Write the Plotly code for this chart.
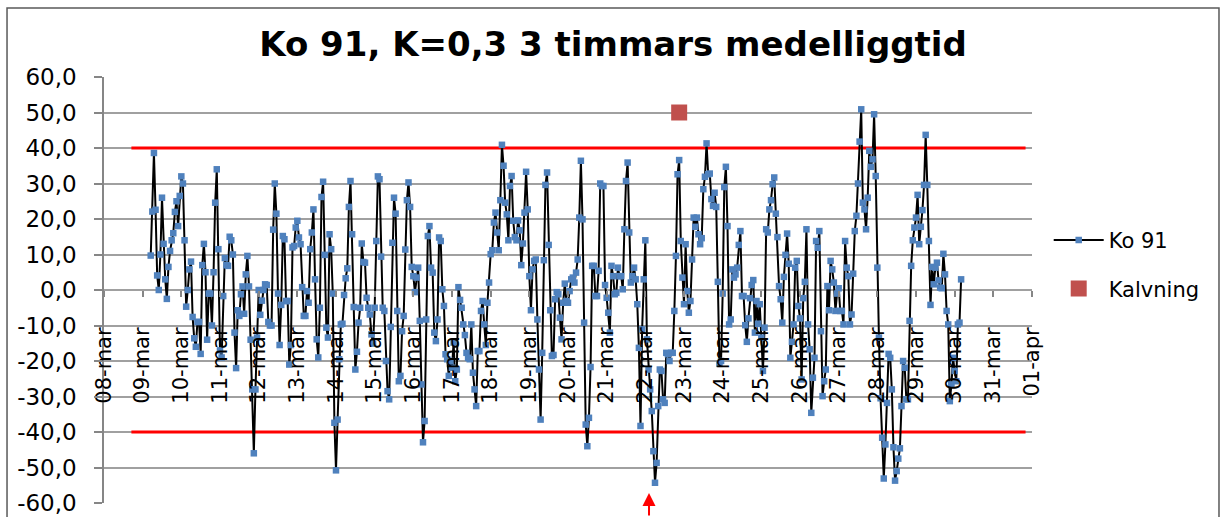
import plotly.graph_objects as go
import pandas as pd

title_text = "Ko 91, K=0,3 3 timmars medelliggtid"

# hourly readings of the 3-hour mean, starting 09-mar 05:00
start_time = "2011-03-09 05:00"

ko91_09_12mar = [9.7, 22.1, 38.6, 22.6, 4.1, 0, 10, 26, 13, 3,
                 -2.5, 6.5, 11, 14, 16, 22, 25, 18, 26.5, 32,
                 30, 14, -4.7, 0, 5.8, 8, -7.6, -13.6, -16, -9,
                 -9, -18, 7, 13, 5, -14, -1, -1, -10, 5,
                 24.6, 34, 11.5, -17, -19, -1.7, 9, 7, 6.8, 15,
                 14, 10, -12, -22, -5.7, -7.3, -1.2, 1, -6.7, 4.4,
                 9.6, 1, -14, -28, -46, -28, -13.4, 0, -7, -3,
                 0, 1.6, 1.4, -9, -10, -10, 17, 30, 21.5, -1]

ko91_12_16mar = [-15.5, -4.2, 15.2, 14.3, -3.1, -3.1, -21, -15.5, 12, 12.4,
                 17.6, 19.5, 14.8, 12.9, 0.8, -7.3, -7.3, -0.3, -3.6, 11.5,
                 16.2, 22.7, 3, -13.9, -19, -5, 26.2, 30.5, 9.9, -10.6,
                 -13.4, 15.7, 11.5, -1, -37.4, -50.8, -36.5, -19.5, -9.7, -9.5,
                 -1.4, 3.3, 6.1, 23.4, 30.7, 15.7, -4.8, -22.4, -17.4, -9.2,
                 -5, 13.1, 7.9, 7.7, -2.2, -5, -6.9, -12.5, -15.1, -5,
                 13.8, 32, 31.2, 9.4, -5, -5.9, -20, -28.5, -30.8, -10.4,
                 13.3, 26, 21.5, -5.9, -25.7, -24.2, -11.6, -7.3, 11.4, 25.3,
                 30.3, 23.4, 6.5, 3.9, -0.6, 3.5]

ko91_16_19mar = [6.3, -8.7, -26.6, -42.9, -36.9, -8.3, 15.2, 18, 6.3, 4.9,
                 -12, -14.4, -8.3, 14.8, 13.8, 0.2, -4.5, -18.1, -19.5, -24.2,
                 -20, -21.9, -14.8, -25.7, -22.4, 0.8, -2.8, -5, -9.7, -12.7,
                 -17.7, -19.1, -19.5, -9.7, -23.3, -28, -32.7, -17.2, -17.2, -5.9,
                 -3.1, -9.7, -15.5, -3.6, 2.1, 10.1, 11.2, 19, 21.8, 16.2,
                 11.2, 25.3, 40.9, 35, 24.6, 21.3, 14, 29.3, 32.1, 19.5,
                 14.9, 14, 19.6, 16.8, 7, 13.1, 21.8, 33.3, 22.7, 3.9,
                 -5.7, 5.8, 8.2, 8.6, -8.3, -22.4, -36.5, -17.7, 8.4, 29.6,
                 33.1, 12.7, -5.7, -18.6, -18.3, -2.6, -0.6, -1.2]

ko91_20_23mar = [-7.8, -13.9, -3.6, 1.8, -3.1, -3.6, -0.3, 3, 3.5, 2.1,
                 4.9, 8.6, 20.4, 36.4, 19.9, -9.2, -37.9, -44, -36, -21.7,
                 6.8, 6.8, -1.7, -1.7, 5.4, 30, 29.3, 29.3, 1.4, -2.2,
                 -6.4, -12, 6.8, 3.9, -1.2, -0.8, 6.3, 3.9, 3.9, 0.2,
                 17.1, 30.7, 35.9, 16.2, 2.1, 3.9, 6.3, 3, -4, -16.3,
                 -38.3, -11.1, 3, 14, -13.9, -22.4, -28, -34.1, -45.4, -54.3,
                 -48.7, -32.7, -22.4, -22.8, -30.8, -31.8, -17.7, -18.1, -20, -17.7,
                 -17.7, -5.9, 9.6, 32.6, 36.6, 13.8, 3.5, -4, 12.9, -0.3,
                 -6.4, -3.1, 8.6, 20.4, 17.8, 20.4, 15.7]

ko91_23_27mar = [12.9, 14.6, 28.4, 31.9, 41.3, 32.6, 32.8, 25.6, 23.7, 27.4,
                 23.4, 2.3, -20.8, -20, -1, 29, 34.7, 18, -9.7, -8.3,
                 5.8, 3.5, 4.4, 6.3, 12.7, 16.6, -1.7, -1.7, -9.9, -14.6,
                 -8, -2.3, 1.4, 2.8, -12, -3.1, -9.5, -4, -13.4, -22.8,
                 -10.6, 17.1, 16.2, 22.7, 25.3, 29.8, 31.7, 21.5, 14.9, 1.1,
                 -2.6, -9.2, 3.7, 9.9, 15.9, 7.4, -19.1, -14.6, -9.7, 6.3,
                 8.2, -4.5, -8, -25.2, -2.3, 2.3, 17.1, -9.7, -16.7, -34.6,
                 -24.7, -19.1, 13.8, 11.9, 16.6, -11.6, -29.9, -25.7, -22.4, 1.1,
                 -5.7, 8.2, 5.8, 2.1, -5.9, -1]

ko91_27_30mar = [0.5, -5.9, -5.9, -9.7, 13.8, 6.3, 3.9, -9.7, -6.9, 4.6,
                 16.6, 20.9, 30, 41.8, 50.9, 24.6, 22.7, 17.1, 26, 39.2,
                 34.7, 36.8, 49.5, 32.1, 6.3, -13.4, -30.5, -41.6, -53.1, -43.5,
                 -31.8, -18, -19.1, -28, -44.3, -53.7, -51, -47.5, -44.6, -32.7,
                 -20, -21.9, -30.8, -30.8, -8.7, 6.8, 14, 17.6, 20.4, 26.8,
                 12.9, 17.8, 22.5, 29.6, 43.7, 29.6, 13.8, -4.2, 6.5, 1.6,
                 6.3, 7.7, 2.7, 0.7, 0.5, 10.2, 4.4, -5.9, -9.7, -31.3,
                 -26.6, -19.1, -22.8, -25.7, -9.7, -9.2, 3]

ko91 = (ko91_09_12mar + ko91_12_16mar + ko91_16_19mar
        + ko91_20_23mar + ko91_23_27mar + ko91_27_30mar)
times = pd.date_range(start_time, periods=len(ko91), freq="h")

kalvning_time = ["2011-03-22 21:00"]
kalvning_value = [50]

limit_times = ["2011-03-08 17:00", "2011-03-31 20:00"]
upper_limit = [40, 40]
lower_limit = [-40, -40]

tick_dates = list(pd.date_range("2011-03-08", "2011-04-01", freq="D"))
tick_labels = ["08-mar", "09-mar", "10-mar", "11-mar", "12-mar", "13-mar",
               "14-mar", "15-mar", "16-mar", "17-mar", "18-mar", "19-mar",
               "20-mar", "21-mar", "22-mar", "23-mar", "24-mar", "25-mar",
               "26-mar", "27-mar", "28-mar", "29-mar", "30-mar", "31-mar",
               "01-apr"]
y_ticks = [-60, -50, -40, -30, -20, -10, 0, 10, 20, 30, 40, 50, 60]
y_labels = ["-60,0", "-50,0", "-40,0", "-30,0", "-20,0", "-10,0", "0,0",
            "10,0", "20,0", "30,0", "40,0", "50,0", "60,0"]

FONT = "DejaVu Sans"

fig = go.Figure()
for lim in (upper_limit, lower_limit):
    fig.add_trace(go.Scatter(x=limit_times, y=lim, mode="lines",
                             line=dict(color="#FF0000", width=3),
                             showlegend=False, hoverinfo="skip"))

fig.add_trace(go.Scatter(x=times, y=ko91, mode="lines+markers", name="Ko 91",
                         line=dict(color="black", width=2),
                         marker=dict(symbol="square", size=6.5, color="#4F81BD",
                                     line=dict(width=0)),
                         legendgroup="a"))
fig.add_trace(go.Scatter(x=kalvning_time, y=kalvning_value, mode="markers",
                         name="Kalvning",
                         marker=dict(symbol="square", size=16, color="#C0504D",
                                     line=dict(width=0)),
                         legendgroup="b"))

fig.update_layout(
    width=1225, height=517,
    margin=dict(l=104, r=193, t=77, b=14, autoexpand=False),
    paper_bgcolor="white", plot_bgcolor="white",
    font=dict(family=FONT, size=21, color="black"),
    title=dict(text=title_text, x=0.5485, xref="paper", xanchor="center",
               y=0.915, yref="container", yanchor="middle",
               font=dict(family=FONT, size=34, color="black", weight="bold")),
    showlegend=True,
    legend=dict(x=1.018, y=0.56, xanchor="left", yanchor="middle",
                font=dict(family=FONT, size=21, color="black"),
                bgcolor="rgba(0,0,0,0)", traceorder="grouped",
                tracegroupgap=18, itemwidth=50),
    xaxis=dict(type="date", range=["2011-03-08", "2011-04-01"],
               tickmode="array", tickvals=tick_dates, ticktext=tick_labels,
               tickangle=-90, anchor="free", position=0.5, automargin=False,
               showgrid=False, zeroline=False, showline=False,
               ticks="outside", ticklen=6, tickwidth=1.5, tickcolor="#868686",
               ticklabelstandoff=22,
               tickfont=dict(family=FONT, size=21, color="black")),
    yaxis=dict(range=[-60, 60], tickmode="array", tickvals=y_ticks,
               ticktext=y_labels, showgrid=True, gridcolor="#A0A0A0",
               gridwidth=1.5, zeroline=False, showline=True, automargin=False,
               linecolor="#868686", linewidth=1.5, ticks="outside", ticklen=8,
               tickwidth=1.5, tickcolor="#868686", ticklabelstandoff=13,
               tickfont=dict(family=FONT, size=23, color="black")),
    shapes=[dict(type="rect", xref="paper", yref="paper",
                 x0=-0.1045, x1=1.2015, y0=-0.2, y1=1.162,
                 line=dict(color="#595959", width=1.5),
                 fillcolor="rgba(0,0,0,0)", layer="below")],
    annotations=[dict(xref="paper", yref="paper", x=0.5873, y=0.0235,
                      ax=0, ay=30, text="", showarrow=True, arrowhead=2,
                      arrowsize=1.3, arrowwidth=2, arrowcolor="#FF0000",
                      standoff=0)],
)

fig.write_html("out.html", config={"displayModeBar": False},
               post_script="document.body.style.margin='0';")
